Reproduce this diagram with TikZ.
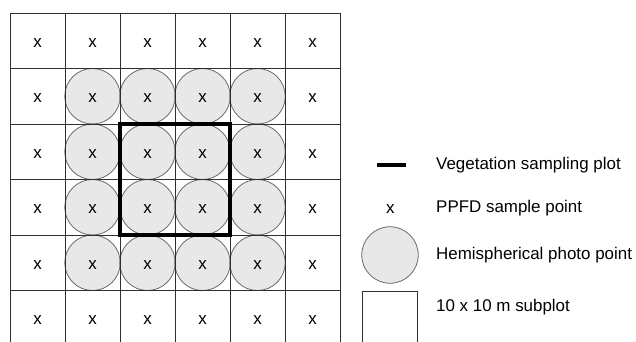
\documentclass[tikz,border=0pt]{standalone}
\usepackage{fontspec}
\setmainfont{Liberation Sans}
\usetikzlibrary{positioning}
\definecolor{gridInk}{HTML}{2E2E2E}
\definecolor{photoFill}{HTML}{E8E8E8}
\definecolor{photoEdge}{HTML}{6A6A6A}
\tikzset{
  subplot/.style={
    rectangle,
    draw=gridInk,
    line width=0.9bp,
    minimum width=55bp,
    minimum height=55.5bp,
    inner sep=0pt
  },
  photo/.style={
    circle,
    draw=photoEdge,
    fill=photoFill,
    line width=0.8bp,
    minimum size=55.5bp,
    inner sep=0pt
  },
  ppfd/.style={
    inner sep=0pt,
    font=\fontsize{17}{19}\selectfont
  },
  keytext/.style={
    anchor=base west,
    inner sep=0pt,
    font=\fontsize{17}{20}\selectfont
  },
  vegplot/.style={
    line width=4bp,
    draw=black
  }
}

\begin{document}
\begin{tikzpicture}[x=1bp,y=-1bp]
  \useasboundingbox (0,0) rectangle (636,341);
  \clip (0,0) rectangle (636,341);
  % hemispherical photo points
  \foreach \i in {1,...,4} {
    \foreach \j in {1,...,4} {
      \node[photo] (photo-\i-\j) at ({10+27.5+55*\i},{13+27.75+55.5*\j}) {};
    }
  }
  % subplots with PPFD points
  \foreach \i in {0,...,5} {
    \foreach \j in {0,...,5} {
      \node[subplot] (cell-\i-\j) at ({10+27.5+55*\i},{13+27.75+55.5*\j}) {};
      \node[ppfd] (x-\i-\j) at ([yshift=-2bp]cell-\i-\j.center) {x};
    }
  }
  % vegetation sampling plot
  \draw[vegplot] (cell-2-2.north west) rectangle (cell-3-3.south east);
  % legend
  \coordinate (vegA) at (377,165);
  \coordinate (vegB) at (406,165);
  \draw[vegplot,line width=3.4bp] (vegA) -- (vegB);
  \node[keytext] (vegText) at (436,169.3) {Vegetation sampling plot};
  \node[ppfd] (ppfdKey) at (390.3,208.8) {x};
  \node[keytext] (ppfdText) at (436,212.7) {PPFD sample point};
  \node[photo,minimum size=56.5bp] (photoKey) at (390,255) {};
  \node[keytext] (photoText) at (436,259) {Hemispherical photo point};
  \node[subplot,anchor=north west] (cellKey) at (362.3,290.7) {};
  \node[keytext] (cellText) at (436,311.7) {10 x 10 m subplot};
\end{tikzpicture}
\end{document}
